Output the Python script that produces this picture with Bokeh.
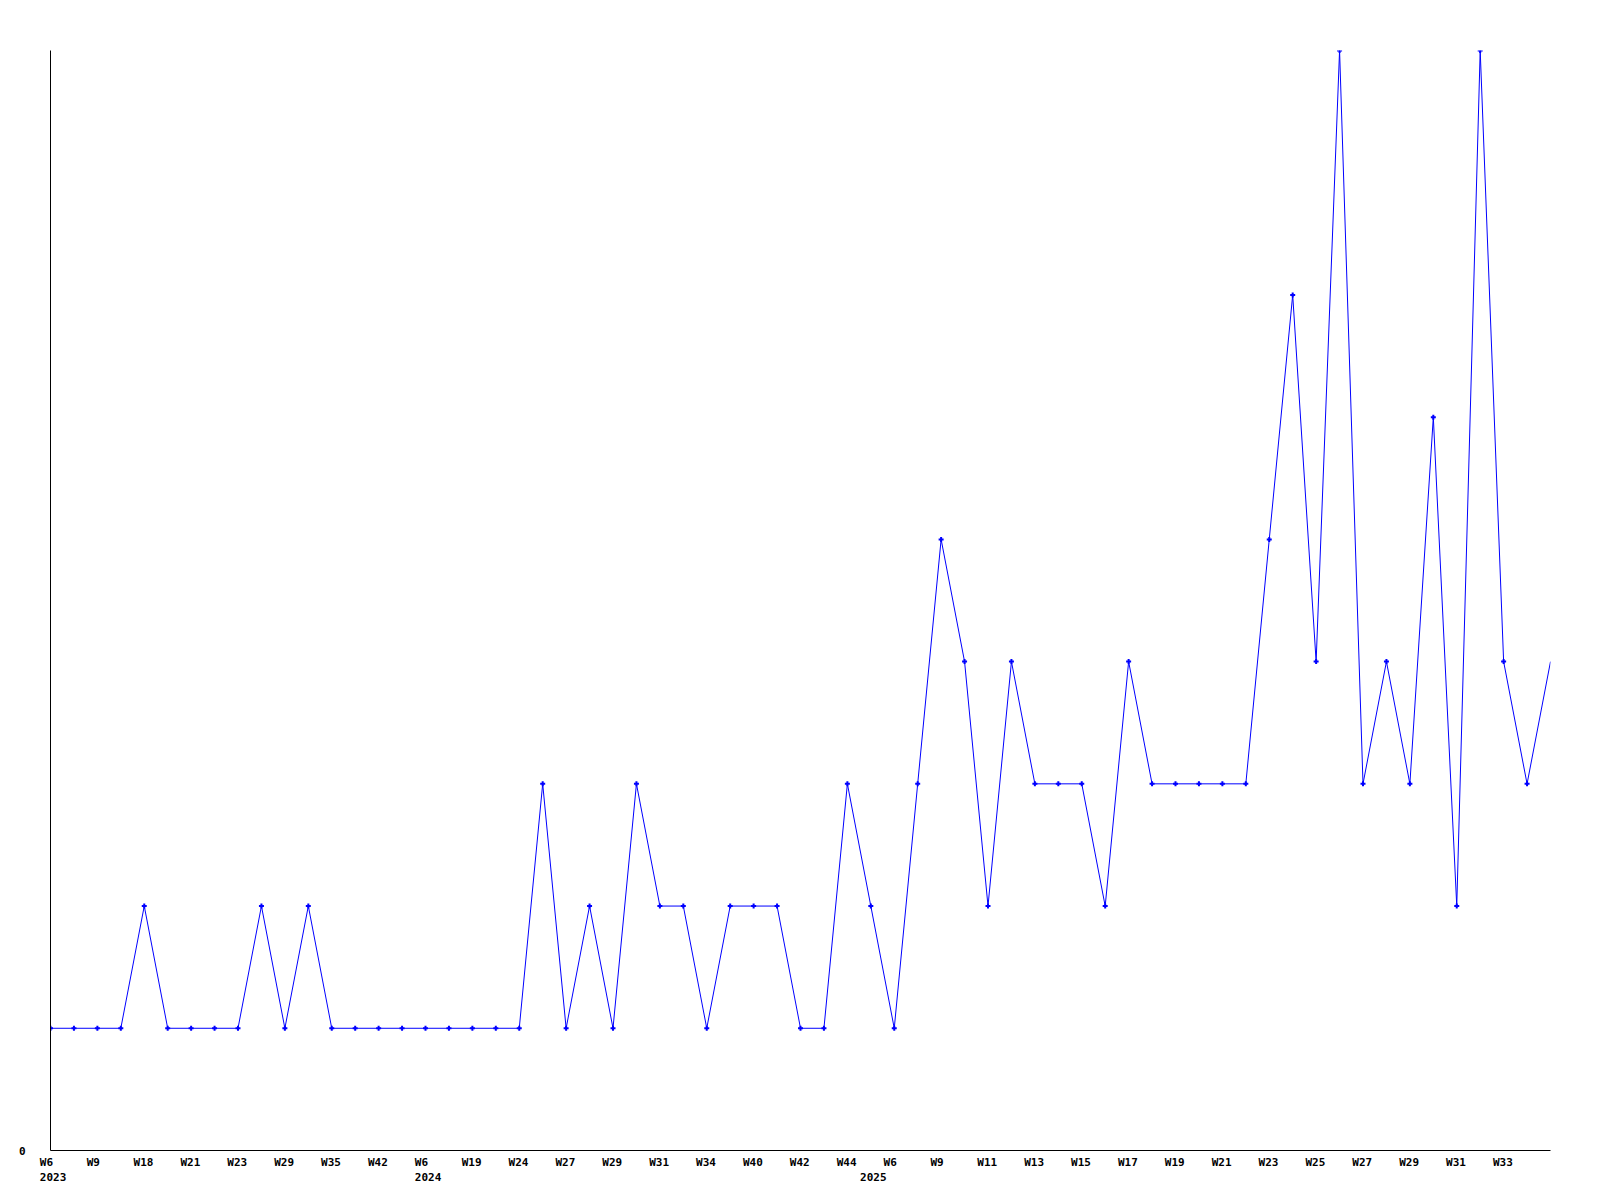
from bokeh.plotting import figure
from bokeh.models import FixedTicker, Range1d, LinearAxis
from bokeh.embed import file_html
from bokeh.resources import INLINE

# ---- data ----
values = [1, 1, 1, 1, 2, 1, 1, 1, 1, 2, 1, 2, 1, 1, 1, 1, 1, 1, 1, 1,
          1, 3, 1, 2, 1, 3, 2, 2, 1, 2, 2, 2, 1, 1, 3, 2, 1, 3, 5, 4,
          2, 4, 3, 3, 3, 2, 4, 3, 3, 3, 3, 3, 5, 7, 4, 9, 3, 4, 3, 6,
          2, 9, 4, 3, 4]

tick_labels = ["W6", "W9", "W18", "W21", "W23", "W29", "W35", "W42",
               "W6", "W19", "W24", "W27", "W29", "W31", "W34", "W40",
               "W42", "W44", "W6", "W9", "W11", "W13", "W15", "W17",
               "W19", "W21", "W23", "W25", "W27", "W29", "W31", "W33"]
tick_index = [2 * i for i in range(len(tick_labels))]

years = ["2023", "2024", "2025"]
year_index = [0, 16, 35]

x = list(range(len(values)))

FONT = "DejaVu Sans Mono"
NB = "\u00a0"

# tick labels padded to 4 monospace cells so centred labels read as left-aligned
week_at = {i: lab + NB * (4 - len(lab)) for i, lab in zip(tick_index, tick_labels)}
year_at = dict(zip(year_index, years))
all_ticks = sorted(set(tick_index) | set(year_index))
overrides = {}
for i in all_ticks:
    top = week_at.get(i, NB * 4)
    overrides[i] = top + ("\n" + year_at[i] if i in year_at else "")

n = len(values)
shift = 0.109  # label anchor shift (in point spacings)

p = figure(width=1584, height=1192, output_backend="svg", toolbar_location=None,
           x_range=Range1d(0, n - 1), y_range=Range1d(0, 9),
           x_axis_location=None,
           min_border_left=50, min_border_right=34, min_border_top=50,
           min_border_bottom=42)
p.extra_x_ranges = {"lab": Range1d(-shift, n - 1 - shift)}
p.outline_line_color = None
p.xgrid.visible = False
p.ygrid.visible = False
p.background_fill_color = "white"
p.border_fill_color = "white"

xa = LinearAxis(x_range_name="lab", ticker=FixedTicker(ticks=all_ticks),
                major_label_overrides=overrides)
xa.major_tick_line_color = None
xa.minor_tick_line_color = None
xa.major_tick_out = 0
xa.major_tick_in = 0
xa.minor_tick_out = 0
xa.major_label_standoff = 5
xa.major_label_text_font = FONT
xa.major_label_text_font_style = "bold"
xa.major_label_text_font_size = "11px"
xa.major_label_text_line_height = 1.2
xa.major_label_text_color = "black"
xa.axis_line_color = "black"
p.add_layout(xa, "below")

# y axis: only "0"
p.yaxis.ticker = FixedTicker(ticks=[0])
p.yaxis.major_tick_line_color = None
p.yaxis.minor_tick_line_color = None
p.yaxis.major_tick_out = 0
p.yaxis.major_tick_in = 0
p.yaxis.minor_tick_out = 0
p.yaxis.major_label_standoff = 25
p.yaxis.major_label_text_font = FONT
p.yaxis.major_label_text_font_style = "bold"
p.yaxis.major_label_text_font_size = "11px"
p.yaxis.major_label_text_color = "black"
p.yaxis.axis_line_color = "black"

p.line(x, values, line_color="#0000ff", line_width=1)
p.scatter(x[:-1], values[:-1], marker="cross", size=5, line_width=2,
          line_color="#0000ff")

open("out.html", "w").write(file_html(p, INLINE))
